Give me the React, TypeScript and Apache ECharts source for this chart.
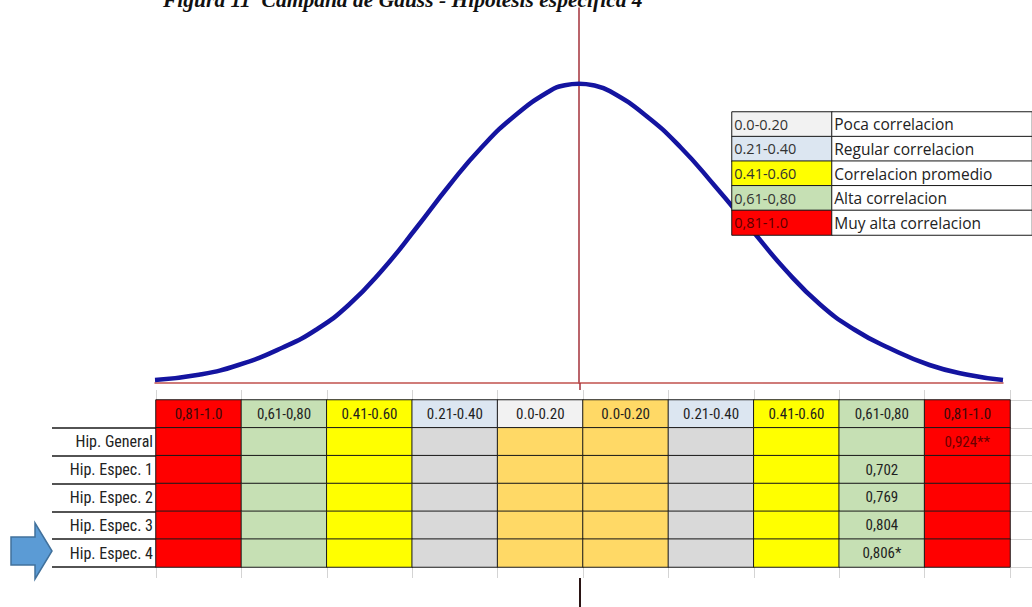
import React, { useEffect, useRef } from 'react';
import * as echarts from 'echarts';

// Gauss bell curve (x in standard units, y density)
const curveX = [-3.0, -2.69, -2.41, -2.1, -1.86, -1.63, -1.39, -1.15, -0.92, -0.69, -0.45, -0.21, -0.1, 0, 0.1, 0.22, 0.47, 0.72, 0.96, 1.21, 1.46, 1.71, 1.95, 2.19, 2.48, 2.75, 3.0];
const curveY = [0.004, 0.011, 0.024, 0.047, 0.071, 0.104, 0.151, 0.207, 0.263, 0.314, 0.357, 0.389, 0.397, 0.399, 0.397, 0.389, 0.357, 0.314, 0.263, 0.207, 0.151, 0.104, 0.071, 0.047, 0.024, 0.011, 0.004];

// Bottom table
const columns = ['0,81-1.0', '0,61-0,80', '0.41-0.60', '0.21-0.40', '0.0-0.20', '0.0-0.20', '0.21-0.40', '0.41-0.60', '0,61-0,80', '0,81-1.0'];
const rowLabels = ['Hip. General', 'Hip. Espec. 1', 'Hip. Espec. 2', 'Hip. Espec. 3', 'Hip. Espec. 4'];
const correlations = [0.924, 0.702, 0.769, 0.804, 0.806];
const significance = ['**', '', '', '', '*'];
const rangeMins = [0.0, 0.21, 0.41, 0.61, 0.81]; // right half columns 5..9

// Palette indices
const palette = ['#ff0000', '#c6e0b4', '#ffff00', '#dce6f1', '#f2f2f2', '#ffd966', '#d9d9d9', '#ffffff'];
const headerColorIdx = [0, 1, 2, 3, 4, 5, 3, 2, 1, 0];
const bodyColorIdx = [0, 1, 2, 6, 5, 5, 6, 2, 1, 0];

// Legend table
const legendRanges = ['0.0-0.20', '0.21-0.40', '0.41-0.60', '0,61-0,80', '0,81-1.0'];
const legendColorIdx = [4, 3, 2, 1, 0];
const legendDescriptions = ['Poca correlacion', 'Regular correlacion', 'Correlacion promedio', 'Alta correlacion', 'Muy alta correlacion'];

const titleText = 'Figura 11  Campana de Gauss - Hipótesis específica 4';

const NARROW = "'Liberation Sans Narrow', 'Roboto Condensed', Roboto, sans-serif";
const OPEN = "'Open Sans', 'Noto Sans', sans-serif";

function colForValue(v: number): number {
  let c = 5;
  rangeMins.forEach((m, i) => {
    if (v >= m) c = 5 + i;
  });
  return c;
}

export default function App() {
  const ref = useRef<HTMLDivElement>(null);
  useEffect(() => {
    const chart = echarts.init(ref.current!, null, { renderer: 'svg' });

    const tableData: any[] = [];
    columns.forEach((c, i) => {
      tableData.push({
        value: [i, 0, headerColorIdx[i]],
        txt: c,
        label: { color: headerColorIdx[i] === 0 ? '#3b0a0a' : '#1f1f1f' },
      });
    });
    rowLabels.forEach((_, r) => {
      const vc = colForValue(correlations[r]);
      columns.forEach((_c, i) => {
        tableData.push({
          value: [i, r + 1, bodyColorIdx[i]],
          txt: i === vc ? correlations[r].toFixed(3).replace('.', ',') + significance[r] : '',
          label: { color: bodyColorIdx[i] === 0 ? '#6a0000' : '#1f1f1f' },
        });
      });
    });

    const legendRangeData = legendRanges.map((t, i) => ({
      value: [0, i, legendColorIdx[i]],
      txt: t,
      label: { color: legendColorIdx[i] === 0 ? '#5a0000' : '#333333' },
    }));
    const legendDescData = legendDescriptions.map((t, i) => ({
      value: [0, i, 7],
      txt: t,
    }));

    const hiddenCat = (data: string[], gridIndex: number, inverse = false) => ({
      type: 'category',
      gridIndex,
      data,
      inverse,
      show: false,
    });

    const option: any = {
      animation: false,
      backgroundColor: '#ffffff',
      grid: [
        { left: 155, top: 8, width: 848, height: 375 },
        { left: 156, top: 400, width: 854, height: 167 },
        { left: 732, top: 112, width: 100, height: 123 },
        { left: 832, top: 112, width: 260, height: 123 },
      ],
      xAxis: [
        {
          type: 'value', gridIndex: 0, min: -3, max: 3,
          axisLine: { show: true, onZero: false, lineStyle: { color: '#c0504d', width: 1.5 } },
          axisTick: { show: false }, axisLabel: { show: false }, splitLine: { show: false },
        },
        {
          type: 'category', gridIndex: 1, data: columns, position: 'top',
          axisLine: { show: false }, axisLabel: { show: false },
          axisTick: { show: true, length: 10, lineStyle: { color: '#d4d4d4', width: 1 } },
        },
        {
          type: 'category', gridIndex: 1, data: columns, position: 'bottom',
          axisLine: { show: false }, axisLabel: { show: false },
          axisTick: { show: true, length: 11, lineStyle: { color: '#d4d4d4', width: 1 } },
        },
        hiddenCat([''], 2),
        hiddenCat([''], 3),
      ],
      yAxis: [
        {
          type: 'value', gridIndex: 0, min: 0, max: 0.5,
          axisLine: { show: true, onZero: true, lineStyle: { color: '#a3303a', width: 1.5 } },
          axisTick: { show: false }, axisLabel: { show: false }, splitLine: { show: false },
        },
        {
          type: 'category', gridIndex: 1, data: [''].concat(rowLabels), inverse: true, position: 'left',
          axisLine: { show: false },
          axisTick: {
            show: true, length: 104, interval: (i: number) => i > 0,
            lineStyle: { color: '#1a1a1a', width: 1.5 },
          },
          axisLabel: { show: true, color: '#222222', fontSize: 16, fontFamily: NARROW, margin: 3 },
        },
        {
          type: 'category', gridIndex: 1, data: [''].concat(rowLabels), inverse: true, position: 'right',
          axisLine: { show: false }, axisLabel: { show: false },
          axisTick: { show: true, length: 22, lineStyle: { color: '#d4d4d4', width: 1 } },
        },
        hiddenCat(legendRanges, 2, true),
        hiddenCat(legendDescriptions, 3, true),
      ],
      visualMap: {
        type: 'piecewise', show: false, seriesIndex: [1, 2, 3], dimension: 2,
        pieces: palette.map((c, i) => ({ value: i, color: c })),
      },
      series: [
        {
          type: 'line', xAxisIndex: 0, yAxisIndex: 0, z: 2,
          data: curveX.map((x, i) => [x, curveY[i]]),
          smooth: 0.5, symbol: 'none',
          lineStyle: { color: '#1414a0', width: 4.5 },
        },
        {
          type: 'heatmap', xAxisIndex: 1, yAxisIndex: 1, z: 3,
          data: tableData,
          itemStyle: { borderColor: '#1a1a1a', borderWidth: 1 },
          label: { show: true, fontSize: 15, fontFamily: NARROW, formatter: (p: any) => p.data.txt },
          emphasis: { disabled: true },
        },
        {
          type: 'heatmap', xAxisIndex: 3, yAxisIndex: 3, z: 5,
          data: legendRangeData,
          itemStyle: { borderColor: '#1a1a1a', borderWidth: 1 },
          label: { show: true, position: 'insideLeft', distance: 3, fontSize: 14.5, fontFamily: OPEN, formatter: (p: any) => p.data.txt },
          emphasis: { disabled: true },
        },
        {
          type: 'heatmap', xAxisIndex: 4, yAxisIndex: 4, z: 5,
          data: legendDescData,
          itemStyle: { borderColor: '#1a1a1a', borderWidth: 1 },
          label: { show: true, position: 'insideLeft', distance: 3, fontSize: 15.5, color: '#222222', fontFamily: OPEN, formatter: (p: any) => p.data.txt },
          emphasis: { disabled: true },
        },
      ],
      graphic: [
        {
          type: 'text', left: 163, top: -11, z: 10,
          style: { text: titleText, fontSize: 21.5, fontWeight: 'bold', fontStyle: 'italic', fontFamily: "'Liberation Serif', 'DejaVu Serif', serif", fill: '#111111' },
        },
        {
          type: 'line', z: 10,
          shape: { x1: 580, y1: 383, x2: 580, y2: 390 },
          style: { stroke: '#a3303a', lineWidth: 1.5 },
        },
        {
          type: 'line', z: 10,
          shape: { x1: 580, y1: 578, x2: 580, y2: 607 },
          style: { stroke: '#2a1414', lineWidth: 2 },
        },
        {
          type: 'polygon', z: 10,
          shape: { points: [[11, 537], [35, 537], [35, 523], [52, 551], [35, 579], [35, 565], [11, 565]] },
          style: { fill: '#5b9bd5', stroke: '#41719c', lineWidth: 1.5 },
        },
      ],
    };
    chart.setOption(option);
    return () => chart.dispose();
  }, []);
  return <div ref={ref} style={{ position: 'fixed', left: 0, top: 0, width: 1032, height: 607, background: '#fff' }} />;
}
